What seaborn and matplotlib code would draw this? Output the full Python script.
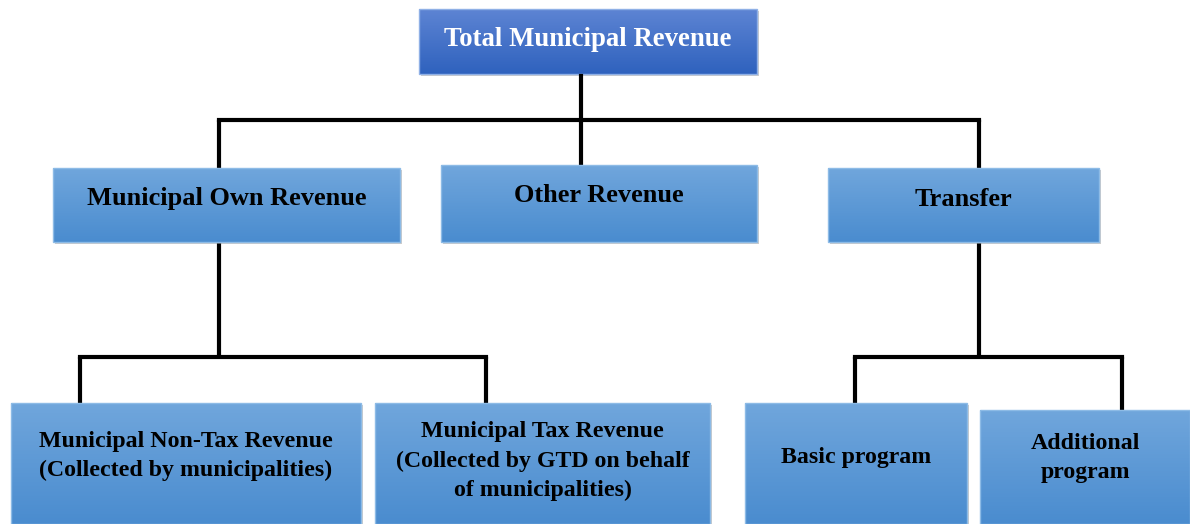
import numpy as np
import matplotlib
matplotlib.use("Agg")
import matplotlib.pyplot as plt
import seaborn as sns
from matplotlib.patches import Rectangle

sns.set_theme(style="white")
plt.rcParams['font.family'] = ['Liberation Serif', 'DejaVu Serif']

# ---- content ----
root_label = "Total Municipal Revenue"
level1_labels = ["Municipal Own Revenue", "Other Revenue", "Transfer"]
level2_labels = [
    "Municipal Non-Tax Revenue\n(Collected by municipalities)",
    "Municipal Tax Revenue\n(Collected by GTD on behalf\nof municipalities)",
    "Basic program",
    "Additional\nprogram",
]
level2_parent = [0, 0, 2, 2]

# ---- layout (pixel space, y downward) ----
W, H = 1190, 524
root_box = (419, 9, 757, 74)
root_text_y = 39
l1_boxes = [(53, 168, 400, 242), (441, 165, 757, 242), (828, 168, 1099, 242)]
l1_text_y = [199, 195, 199]
l2_boxes = [(11, 403, 361, 524), (375, 403, 710, 524), (745, 403, 967, 524), (980, 410, 1190, 524)]
l2_text_y = [456, 461, 457, 458]
l2_conn_x = [80, 486, 855, 1122]
bus1_y = 120
l1_conn_x = [219, 581, 979]
bus2_y = 357

fig = plt.figure(figsize=(W / 100, H / 100), dpi=100)
ax = fig.add_axes([0, 0, 1, 1])
ax.set_xlim(0, W)
ax.set_ylim(H, 0)
ax.axis("off")


def hexrgb(h):
    h = h.lstrip("#")
    return np.array([int(h[i:i + 2], 16) / 255 for i in (0, 2, 4)])


def gbox(b, ctop, cbot, edge):
    x0, y0, x1, y1 = b
    ax.add_patch(Rectangle((x0 + 2, y0 + 2), x1 - x0, y1 - y0, facecolor="#9a9a9a",
                           edgecolor="none", alpha=0.5, zorder=1))
    t = np.linspace(0, 1, 64)[:, None, None]
    grad = hexrgb(ctop)[None, None, :] * (1 - t) + hexrgb(cbot)[None, None, :] * t
    ax.imshow(grad, extent=(x0, x1, y1, y0), origin="upper", aspect="auto",
              interpolation="bilinear", zorder=2)
    ax.add_patch(Rectangle((x0, y0), x1 - x0, y1 - y0, facecolor="none",
                           edgecolor=edge, lw=1, zorder=3))


LW = 3.0
lk = dict(color="black", lw=LW, zorder=4, solid_capstyle="projecting")

# connectors
ax.plot([581, 581], [root_box[3] + 2, bus1_y], **lk)
ax.plot([min(l1_conn_x), max(l1_conn_x)], [bus1_y, bus1_y], **lk)
for x, b in zip(l1_conn_x, l1_boxes):
    ax.plot([x, x], [bus1_y, b[1]], color="black", lw=LW, zorder=0)

for p in sorted(set(level2_parent)):
    kids = [i for i, q in enumerate(level2_parent) if q == p]
    px = l1_conn_x[p]
    ax.plot([px, px], [l1_boxes[p][3], bus2_y], color="black", lw=LW, zorder=0)
    xs = [l2_conn_x[i] for i in kids]
    ax.plot([min(xs), max(xs)], [bus2_y, bus2_y], **lk)
    for i in kids:
        ax.plot([l2_conn_x[i], l2_conn_x[i]], [bus2_y, l2_boxes[i][1]], color="black", lw=LW, zorder=0)

# boxes
gbox(root_box, "#5d84d3", "#2f62be", "#8fb0e6")
ax.text((root_box[0] + root_box[2]) / 2, root_text_y, root_label, ha="center", va="center",
        color="white", fontsize=19.3, fontweight="bold", zorder=5)

for b, lab, ty in zip(l1_boxes, level1_labels, l1_text_y):
    gbox(b, "#70a6dc", "#4a8ccf", "#8dbbe6")
    ax.text((b[0] + b[2]) / 2, ty, lab, ha="center", va="center", color="black",
            fontsize=19, fontweight="bold", zorder=5)

for b, lab, ty in zip(l2_boxes, level2_labels, l2_text_y):
    gbox(b, "#70a6dc", "#4a8ccf", "#8dbbe6")
    ax.text((b[0] + b[2]) / 2, ty, lab, ha="center", va="center", color="black",
            fontsize=17.2, fontweight="bold", zorder=5, linespacing=1.5)

fig.savefig("out.png", dpi=100)
